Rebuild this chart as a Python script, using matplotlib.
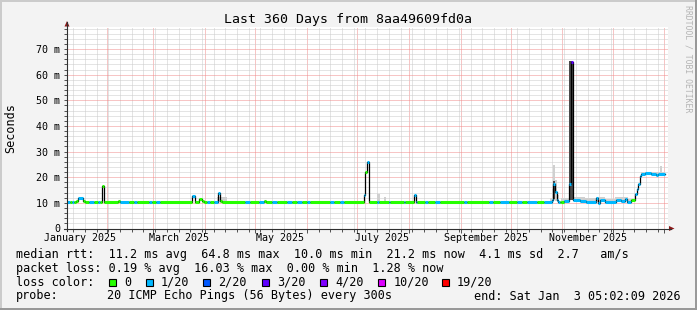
import numpy as np
import pandas as pd
import matplotlib
matplotlib.use('Agg')
import matplotlib.pyplot as plt
import matplotlib.transforms as mtransforms
from matplotlib.patches import Rectangle, Polygon
from matplotlib.lines import Line2D

W, H = 697, 310
MONO = 'DejaVu Sans Mono'

# time frame: 360 days ending Sat Jan 3 05:02:09 2026
START = np.datetime64('2025-01-08T05:02:09')
SPAN_DAYS = 360
DATA_END = 358.2

# median rtt (ms), step changes, x = days since START
rtt_days = [0, 5.4, 6.6, 9.6, 10.8, 21.0, 22.2, 30.6, 31.5, 75.0, 76.7, 78.8, 80.6, 81.8,
            90.4, 91.6, 93.0, 118.2, 119.4, 178.0, 178.8, 179.6, 181.0, 207.8, 209.0,
            290.8, 291.4, 292.6, 293.4, 294.4, 296.0, 298.0, 300.6, 301.8, 303.0, 307.0,
            310.8, 316.8, 318.0, 319.2, 322.2, 328.8, 331.8, 334.2, 335.4, 338.0, 340.4,
            341.6, 342.2, 343.0, 344.0, 346.4, 350.0, 353.0, 354.2]
rtt_ms = [10.2, 10.9, 11.9, 10.8, 10.2, 16.5, 10.2, 10.8, 10.2, 12.7, 10.2, 11.6, 10.6, 10.2,
          13.7, 10.7, 10.2, 10.9, 10.2, 13.2, 22.0, 25.8, 10.2, 12.9, 10.2,
          11.0, 17.4, 14.2, 11.2, 10.4, 10.2, 10.8, 17.5, 65.0, 11.0, 10.9,
          10.3, 11.9, 10.0, 11.0, 10.3, 11.3, 10.8, 11.4, 10.3, 11.0, 13.5,
          15.5, 17.5, 20.5, 21.2, 21.5, 21.3, 20.8, 21.2]

# packet loss level (pings lost of 20), step changes
loss_days = [0, 1.8, 3.0, 4.2, 6.6, 9.6, 13.2, 16.2, 18.6, 19.8, 31.7, 37.1, 40.1, 41.9,
             49.1, 50.9, 53.3, 55.7, 74.9, 76.7, 83.9, 85.7, 88.1, 91.6, 106.6, 109.6,
             115.0, 118.0, 122.8, 125.8, 131.8, 134.8, 137.8, 140.8, 143.8, 145.6,
             157.5, 159.9, 163.5, 165.9, 177.9, 178.8, 179.6, 181.0, 185.7, 186.9,
             192.9, 193.5, 201.9, 202.5, 207.8, 209.7, 214.4, 216.2, 220.4, 223.4,
             237.8, 239.6, 252.8, 255.2, 259.4, 264.8, 269.6, 272.6, 275.6, 281.6,
             285.8, 295.3, 297.7, 301.8, 303.0, 338.0, 340.4]
loss_level = [1, 0, 1, 0, 1, 0, 1, 0, 1, 0, 1, 0, 1, 0,
              1, 0, 1, 0, 1, 0, 1, 0, 1, 0, 1, 0,
              1, 0, 1, 0, 1, 0, 1, 0, 1, 0,
              1, 0, 1, 0, 1, 0, 1, 0, 1, 0,
              1, 0, 1, 0, 1, 0, 1, 0, 1, 0,
              1, 0, 1, 0, 1, 0, 1, 0, 1, 0,
              1, 0, 1, 3, 1, 0, 1]

# smoke (spread of the pings), light and dark
smoke_start = [89.8, 185.7, 189.8, 289.6, 290.8, 291.4, 292.6, 293.4, 296.0, 303.0, 310.0,
               317.0, 322.0, 328.0, 336.0, 344.0, 355.4]
smoke_end = [96.0, 187.3, 191.0, 290.8, 291.4, 292.6, 293.4, 294.6, 300.6, 310.0, 317.0,
             322.0, 328.0, 336.0, 340.0, 358.2, 356.6]
smoke_lo = [10.2, 10.2, 10.2, 10.2, 10.5, 11.0, 10.8, 10.3, 10.3, 10.6, 10.2,
            10.2, 10.2, 10.6, 10.4, 20.7, 21.0]
smoke_hi = [12.2, 13.5, 12.2, 12.0, 15.5, 24.6, 19.0, 13.0, 11.8, 12.4, 12.0,
            12.4, 11.6, 12.2, 11.6, 22.0, 24.2]
dark_start = [291.4, 300.6]
dark_end = [292.6, 303.0]
dark_lo = [11.5, 11.0]
dark_hi = [18.5, 65.4]

LOSS_COLORS = {0: '#26ff00', 1: '#00b8ff', 2: '#0059ff', 3: '#5e00ff',
               4: '#7e00ff', 10: '#dd00ff', 19: '#ff0000'}
legend_levels = [0, 1, 2, 3, 4, 10, 19]
legend_labels = ['0', '1/20', '2/20', '3/20', '4/20', '10/20', '19/20']

title = 'Last 360 Days from 8aa49609fd0a'
row1 = 'median rtt:  11.2 ms avg  64.8 ms max  10.0 ms min  21.2 ms now  4.1 ms sd  2.7   am/s'
row2 = 'packet loss: 0.19 % avg  16.03 % max  0.00 % min  1.28 % now'
probe_text = '20 ICMP Echo Pings (56 Bytes) every 300s'
end_text = 'end: Sat Jan  3 05:02:09 2026'


def fx(px):
    return px / W


def fy(py):
    return 1 - py / H


fig = plt.figure(figsize=(W / 100, H / 100), dpi=100)
fig.patch.set_facecolor('#f3f3f3')

# outer shaded border
for (x, y, w, h, c) in [(0, 0, W, 2, '#cbcbcb'), (0, 0, 2, H, '#cbcbcb'),
                        (0, H - 2, W, 2, '#999999'), (W - 2, 0, 2, H, '#999999')]:
    fig.add_artist(Rectangle((fx(x), fy(y + h)), w / W, h / H, transform=fig.transFigure,
                             facecolor=c, edgecolor='none'))

ax = fig.add_axes([fx(67), fy(228.5), fx(668) - fx(67), fy(27) - fy(228.5)])
ax.set_facecolor('white')
for s in ax.spines.values():
    s.set_visible(False)
ax.set_xlim(0, SPAN_DAYS)
ax.set_ylim(0, 78.6)

# grid: months (major) and weeks starting Sunday (minor)
month_starts = np.arange(np.datetime64('2025-02'), np.datetime64('2026-02'), np.timedelta64(1, 'M'))
month_x = (month_starts.astype('datetime64[s]') - START) / np.timedelta64(1, 'D')
sundays = np.arange(np.datetime64('2025-01-12'), np.datetime64('2026-01-04'), np.timedelta64(7, 'D'))
week_x = (sundays.astype('datetime64[s]') - START) / np.timedelta64(1, 'D')
ax.set_xticks(month_x)
ax.set_xticks(week_x, minor=True)
ax.set_xticklabels([])
ax.set_yticks(np.arange(0, 71, 10))
ax.set_yticks(np.arange(0, 79, 2), minor=True)
ax.set_yticklabels(['0'] + ['%d m' % v for v in range(10, 71, 10)], family=MONO, fontsize=7.2)
ax.grid(which='minor', color='#cbcbcb', ls=(0, (1, 1)), lw=0.72)
ax.grid(which='major', color='#f08c8c', ls=(0, (1, 1)), lw=0.72)
ax.set_axisbelow(True)
ax.tick_params(which='both', direction='out', length=2, width=0.7, color='#505050', pad=3)
ax.tick_params(axis='x', which='major', length=3)

# month labels centred half a month after the month start
label_months = np.arange(np.datetime64('2025-01'), np.datetime64('2025-12'), np.timedelta64(2, 'M'))
trans = mtransforms.blended_transform_factory(ax.transData, ax.transAxes)
for m in label_months:
    xm = (m.astype('datetime64[s]') - START) / np.timedelta64(1, 'D') + 15
    ax.text(xm, -0.049, pd.Timestamp(m).strftime('%B %Y'), transform=trans,
            ha='center', va='center', family=MONO, fontsize=7.2, clip_on=False)

# smoke
for a, b, lo, hi in zip(smoke_start, smoke_end, smoke_lo, smoke_hi):
    ax.fill_between([a, b], [lo, lo], [hi, hi], color='#d0d0d0', lw=0, zorder=2)
for a, b, lo, hi in zip(dark_start, dark_end, dark_lo, dark_hi):
    ax.fill_between([a, b], [lo, lo], [hi, hi], color='#4a4a4a', lw=0, zorder=3)

# median line (black) with loss colour on top
days = np.array(rtt_days + [DATA_END])
vals = np.array(rtt_ms + [rtt_ms[-1]])
ax.step(days, vals, where='post', color='#000000', lw=0.9, zorder=4)
cuts = sorted(set(rtt_days + loss_days + [DATA_END]))
segs, cols = [], []
for a, b in zip(cuts[:-1], cuts[1:]):
    i = np.searchsorted(rtt_days, a, side='right') - 1
    j = np.searchsorted(loss_days, a, side='right') - 1
    segs.append((a, b, rtt_ms[i]))
    cols.append(LOSS_COLORS[loss_level[j]])
ax.hlines([s[2] for s in segs], [s[0] for s in segs], [s[1] for s in segs],
          colors=cols, lw=2.2, zorder=5)

# axes lines and arrows
fig.add_artist(Line2D([fx(67), fx(67)], [fy(231), fy(22)], transform=fig.transFigure, color='#303030', lw=0.8))
fig.add_artist(Line2D([fx(64), fx(671)], [fy(228.5), fy(228.5)], transform=fig.transFigure, color='#303030', lw=0.8))
fig.add_artist(Polygon([(fx(64.5), fy(26.5)), (fx(69.5), fy(26.5)), (fx(67), fy(21))], closed=True,
                       transform=fig.transFigure, facecolor='#8b1a1a', edgecolor='none'))
fig.add_artist(Polygon([(fx(669), fy(226)), (fx(669), fy(231)), (fx(674.5), fy(228.5))], closed=True,
                       transform=fig.transFigure, facecolor='#8b1a1a', edgecolor='none'))

# texts
fig.text(fx(347.5), fy(19), title, ha='center', va='center', family=MONO, fontsize=9.5)
fig.text(fx(688), fy(5), 'RRDTOOL / TOBI OETIKER', rotation=-90, ha='center', va='top',
         family=MONO, fontsize=5.9, color='#b4b4b4')
fig.text(fx(11), fy(128), 'Seconds', rotation=90, ha='center', va='center', family=MONO, fontsize=8.5)

fig.text(fx(16), fy(254.3), row1, ha='left', va='center', family=MONO, fontsize=8.5)
fig.text(fx(16), fy(268.3), row2, ha='left', va='center', family=MONO, fontsize=8.5)
fig.text(fx(16), fy(282.3), 'loss color:', ha='left', va='center', family=MONO, fontsize=8.5)
box_x = [109, 145.7, 203.3, 261.7, 320, 378.3, 441.7]
for bx, lvl, lab in zip(box_x, legend_levels, legend_labels):
    fig.add_artist(Rectangle((fx(bx), fy(285.7)), 7 / W, 7 / H, transform=fig.transFigure,
                             facecolor=LOSS_COLORS[lvl], edgecolor='black', lw=0.8))
    fig.text(fx(bx + 15), fy(282.3), lab, ha='left', va='center', family=MONO, fontsize=8.5)
fig.text(fx(16), fy(296), 'probe:', ha='left', va='center', family=MONO, fontsize=8.5)
fig.text(fx(107.3), fy(296), probe_text, ha='left', va='center', family=MONO, fontsize=8.5)
fig.text(fx(681), fy(296), end_text, ha='right', va='center', family=MONO, fontsize=8.5)

fig.savefig('out.png', dpi=100, facecolor=fig.get_facecolor())
